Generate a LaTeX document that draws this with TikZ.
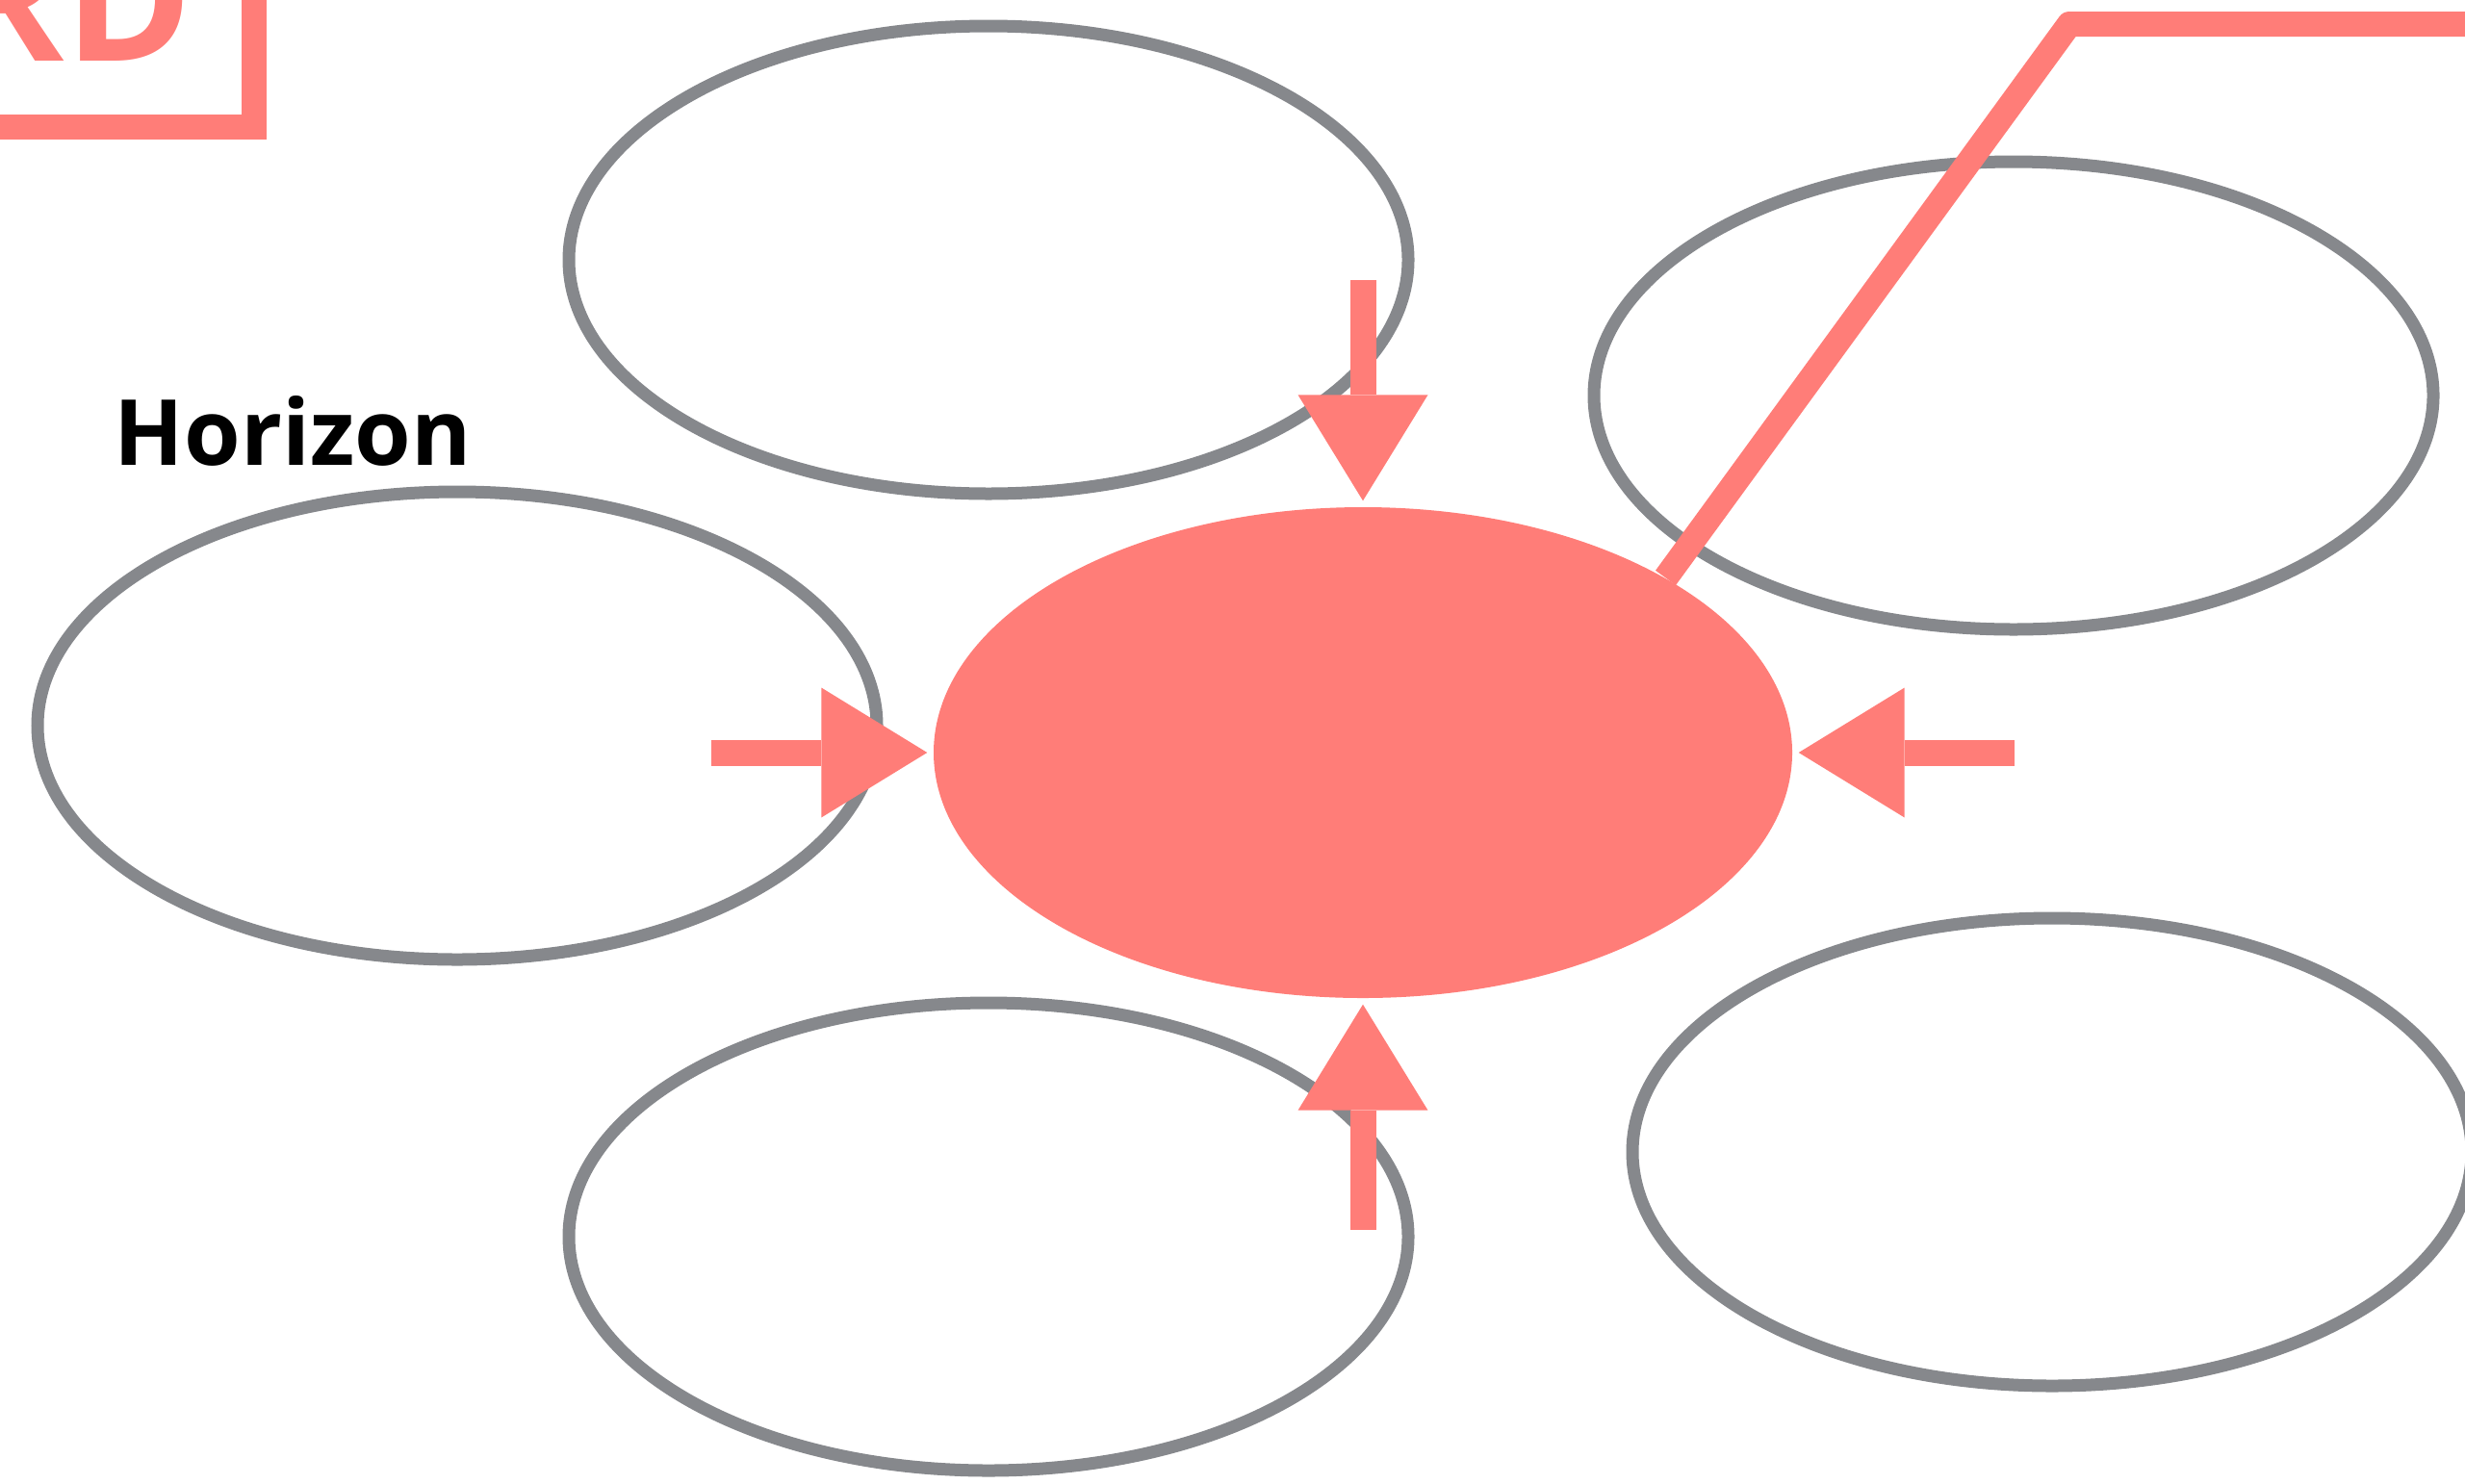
\documentclass[tikz,border=0pt]{standalone}
\usepackage{fontspec}
\setmainfont{Open Sans}
\usetikzlibrary{shapes.geometric,arrows.meta,positioning}
\definecolor{salmon}{RGB}{255,125,120}
\definecolor{chalk}{RGB}{134,136,140}
\begin{document}
\begin{tikzpicture}[
  bubble/.style={ellipse, draw=chalk, line width=0.13cm,
    minimum width=8.72cm, minimum height=4.86cm, inner sep=0pt},
  core/.style={ellipse, fill=salmon, draw=none,
    minimum width=8.92cm, minimum height=5.10cm, inner sep=0pt},
  push/.style={salmon, line width=0.27cm, shorten >=0.06cm,
    -{Triangle[width=1.35cm,length=1.1cm,line width=0pt]}},
  leader/.style={salmon, line width=0.26cm, line join=round},
  titlebox/.style={draw=salmon, line width=0.26cm, text=salmon,
    font=\fontsize{51}{51}\selectfont\bfseries,
    inner xsep=0.64cm, inner ysep=0.69cm, outer sep=0pt}
]
  %% Page frame, 1 px of the sketch = 0.01 cm.
  \useasboundingbox (0,0) rectangle (25.61,-15.41);
  \clip (0,0) rectangle (25.61,-15.41);

  %% Title box, mostly off the page at the top left.
  \node[titlebox, anchor=south east] (title) at (2.64,-1.32) {RD};

  %% Five empty bubbles round the core.
  \foreach \name/\x/\y in {nw/10.27/-2.70, ne/20.92/-4.11, w/4.75/-7.54,
                           sw/10.27/-12.85, se/21.32/-11.97} {
    \node[bubble] (\name) at (\x,\y) {};
  }
  \node[core] (core) at (14.16,-7.82) {};

  %% Label over the left bubble.
  \node[anchor=base west, inner sep=0pt,
        font=\fontsize{27}{27}\selectfont\bfseries]
    (horizon) at (1.18,-4.83) {Horizon};

  %% Arrows pushing in on the core.
  \coordinate[above=2.35cm of core.north] (topTail);
  \coordinate[below=2.40cm of core.south] (botTail);
  \coordinate[left=2.30cm of core.west] (leftTail);
  \coordinate[right=2.30cm of core.east] (rightTail);
  \foreach \from/\to in {topTail/core.north, botTail/core.south,
                         leftTail/core.west, rightTail/core.east} {
    \draw[push] (\from) -- (\to);
  }

  %% Leader line up and off to the right.
  \coordinate (bend) at (21.50,-0.25);
  \coordinate (lineEnd) at (25.90,-0.25);
  \draw[leader] (core.30) -- (bend) -- (lineEnd);
\end{tikzpicture}
\end{document}
